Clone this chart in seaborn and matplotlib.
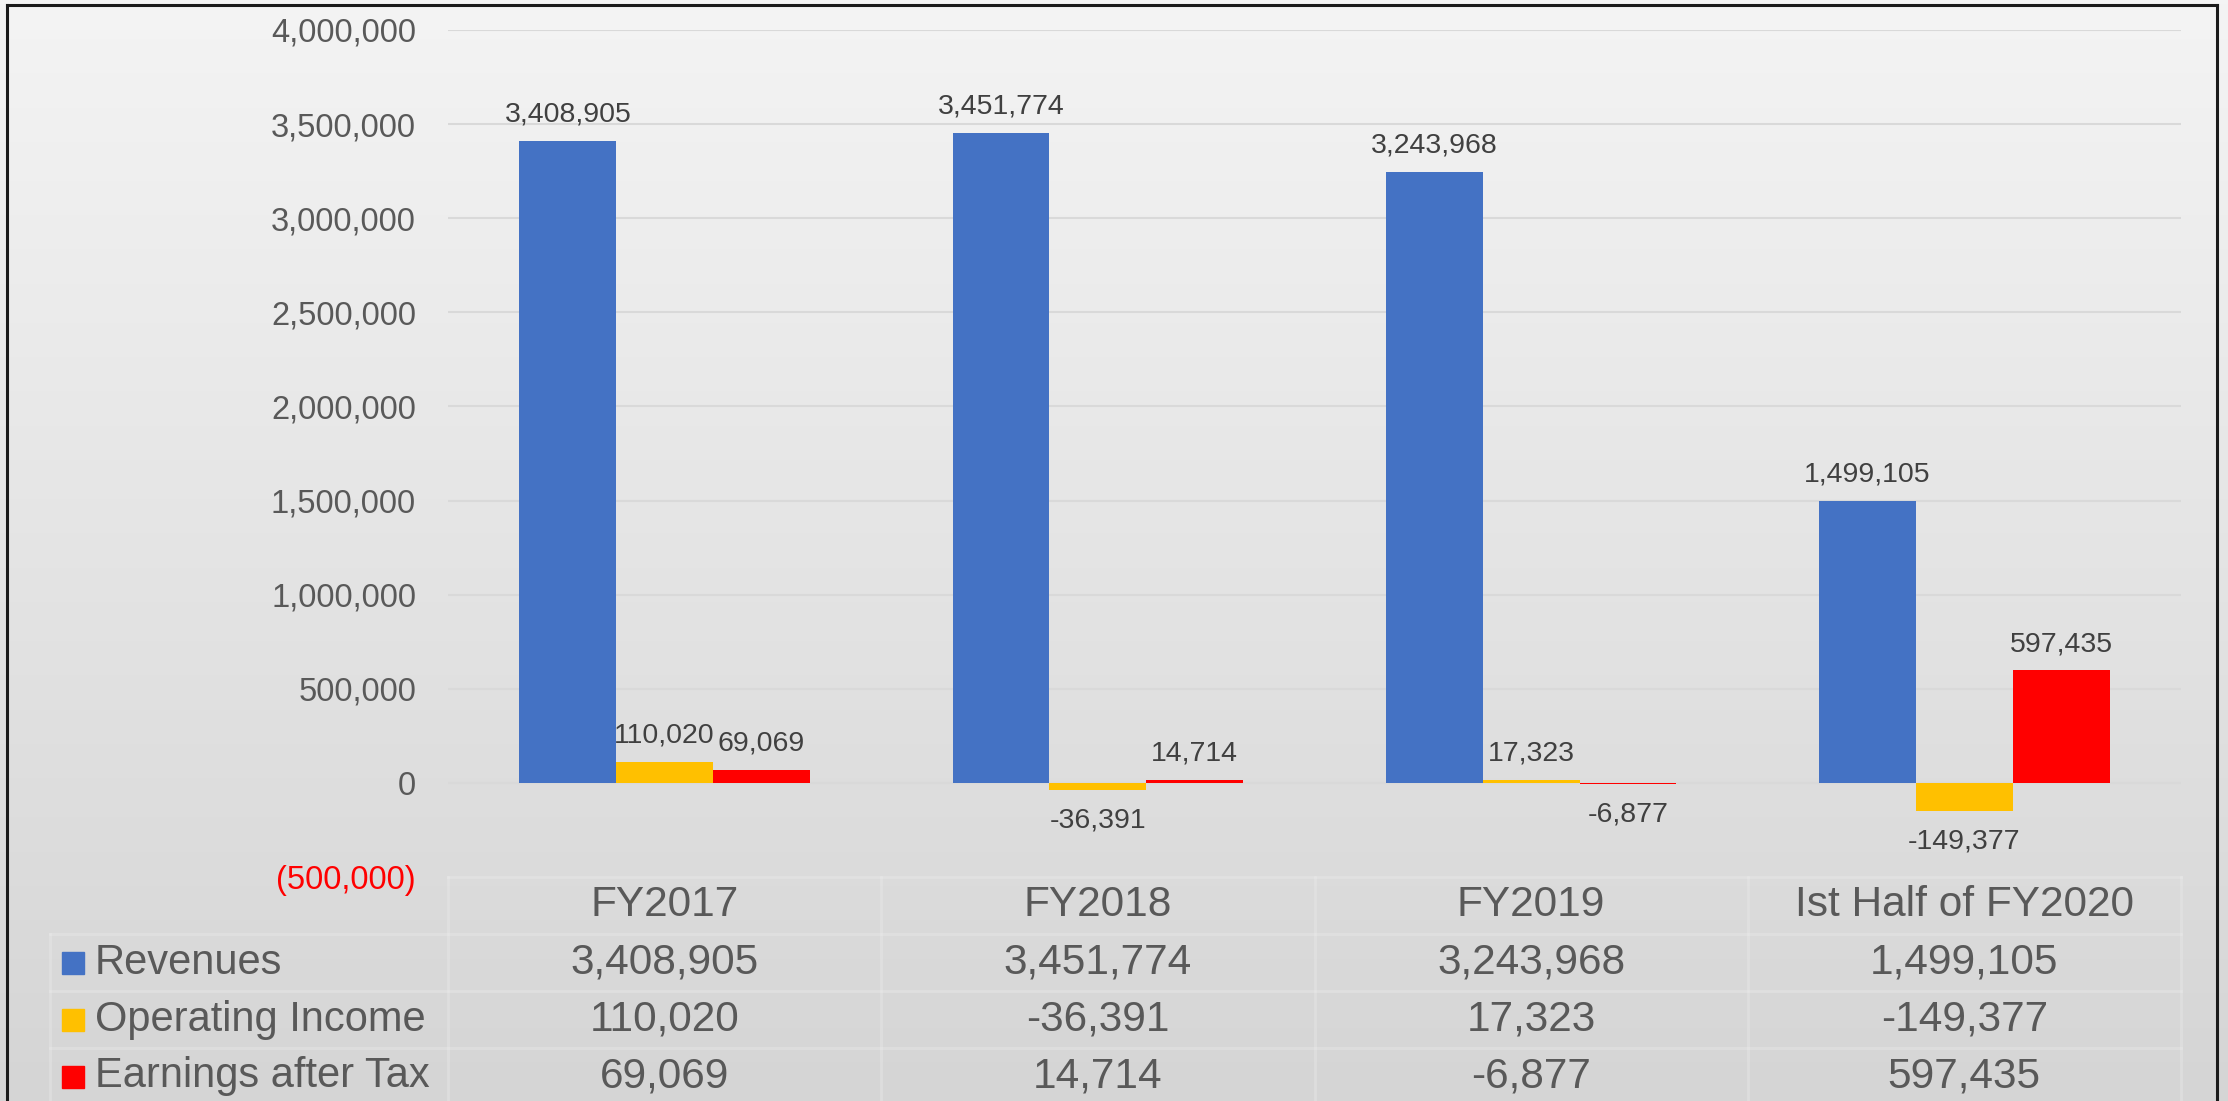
import numpy as np
import pandas as pd
import seaborn as sns
import matplotlib.pyplot as plt
import matplotlib.transforms as mtransforms
from matplotlib.colors import LinearSegmentedColormap
from matplotlib.lines import Line2D
from matplotlib.patches import Rectangle

# data
categories = ["FY2017", "FY2018", "FY2019", "Ist Half of FY2020"]
series = ["Revenues", "Operating Income", "Earnings after Tax"]
revenues = [3408905, 3451774, 3243968, 1499105]
operating_income = [110020, -36391, 17323, -149377]
earnings_after_tax = [69069, 14714, -6877, 597435]
colors = ["#4472C4", "#FFC000", "#FF0000"]
y_ticks = [-500000, 0, 500000, 1000000, 1500000, 2000000, 2500000, 3000000, 3500000, 4000000]

values = [revenues, operating_income, earnings_after_tax]
df = pd.DataFrame({
    "period": categories * len(series),
    "series": np.repeat(series, len(categories)),
    "value": revenues + operating_income + earnings_after_tax,
})

FONT = ["Liberation Sans", "DejaVu Sans"]
W, H = 2228, 1101

fig = plt.figure(figsize=(W / 100, H / 100), dpi=100)

# gradient background of the whole chart area
bg = fig.add_axes([0, 0, 1, 1], zorder=-10)
grad = np.linspace(0, 1, 256).reshape(-1, 1)
bg.imshow(grad, aspect="auto", extent=[0, 1, 0, 1], origin="upper",
          cmap=LinearSegmentedColormap.from_list("bg", ["#f4f4f4", "#d5d5d5"]))
bg.axis("off")

# frame
def fx(px):
    return px / W

def fy(py):
    return 1 - py / H

for xs, ys in [([fx(7), fx(7)], [fy(5), -0.1]),
               ([fx(7), fx(2217)], [fy(5), fy(5)]),
               ([fx(2217), fx(2217)], [fy(5), -0.1])]:
    fig.add_artist(Line2D(xs, ys, color="#1a1a1a", lw=2.2, transform=fig.transFigure))

left, right, top, bottom = 448, 2181, 30, 877
ax = fig.add_axes([fx(left), fy(bottom), (right - left) / W, (bottom - top) / H])
ax.patch.set_alpha(0)

sns.barplot(data=df, x="period", y="value", hue="series", order=categories,
            hue_order=series, palette=colors, width=0.67, saturation=1,
            errorbar=None, legend=False, linewidth=0, ax=ax, zorder=3)

ax.set_xlim(-0.5, 3.5)
ax.set_ylim(-500000, 4000000)
ax.set_yticks(y_ticks, labels=[f"({-v:,})" if v < 0 else f"{v:,}" for v in y_ticks])
for lbl in ax.get_yticklabels():
    lbl.set_fontfamily(FONT)
    lbl.set_fontsize(23.5)
    lbl.set_color("#FF0000" if lbl.get_text().startswith("(") else "#595959")
ax.tick_params(axis="y", length=0, pad=23)
ax.set_xticks([])
ax.set_xlabel("")
ax.set_ylabel("")
for s in ax.spines.values():
    s.set_visible(False)
for t in y_ticks[1:]:
    ax.axhline(t, color="#d9d9d9", lw=1.5, zorder=1)

# data labels
for cont, vals in zip(ax.containers, values):
    for bar, v in zip(cont, vals):
        cx = bar.get_x() + bar.get_width() / 2
        off = 19 if v >= 0 else -22
        ax.annotate(f"{v:,}", (cx, v), xytext=(0, off), textcoords="offset points",
                    ha="center", va="center", fontsize=20.5, color="#404040",
                    family=FONT, zorder=5)

# data table below the plot
tr = mtransforms.blended_transform_factory(ax.transData, fig.transFigure)
row_h = 57
header_y = bottom + row_h / 2
for i, c in enumerate(categories):
    ax.text(i, fy(header_y), c, transform=tr, ha="center", va="center",
            fontsize=30.5, color="#595959", family=FONT, clip_on=False)

for r, (name, vals, col) in enumerate(zip(series, values, colors)):
    yc = bottom + row_h * (r + 1) + row_h / 2
    fig.add_artist(Rectangle((fx(62), fy(yc + 11)), 22 / W, 22 / H,
                             color=col, transform=fig.transFigure))
    fig.text(fx(95), fy(yc), name, ha="left", va="center", fontsize=30,
             color="#595959", family=FONT)
    for i, v in enumerate(vals):
        ax.text(i, fy(yc), f"{v:,}", transform=tr, ha="center", va="center",
                fontsize=30.5, color="#595959", family=FONT, clip_on=False)

# faint table borders
grid_kw = dict(color="#f0f0f0", lw=2, alpha=0.3, transform=fig.transFigure)
fig.add_artist(Line2D([fx(left), fx(right)], [fy(bottom), fy(bottom)], **grid_kw))
for r in range(1, 4):
    yy = fy(bottom + row_h * r)
    fig.add_artist(Line2D([fx(50), fx(right)], [yy, yy], **grid_kw))
col_w = (right - left) / 4
for k in range(5):
    xx = fx(left + col_w * k)
    fig.add_artist(Line2D([xx, xx], [fy(bottom), 0], **grid_kw))
fig.add_artist(Line2D([fx(50), fx(50)], [fy(bottom + row_h), 0], **grid_kw))

fig.savefig("out.png", dpi=100)
